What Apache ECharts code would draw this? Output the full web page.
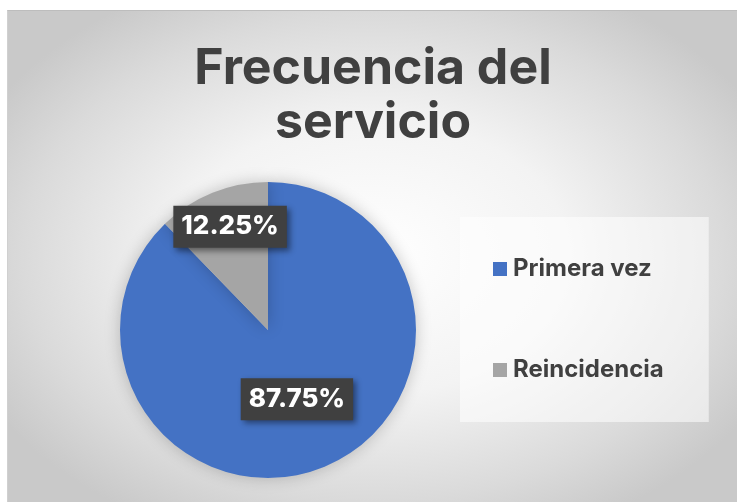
<!DOCTYPE html>
<html>
<head>
<meta charset="utf-8">
<script src="https://cdn.jsdelivr.net/npm/echarts@6/dist/echarts.min.js"></script>
<style>
  html, body { margin: 0; padding: 0; background: #fff; }
  #wrap { position: relative; width: 737px; height: 502px; overflow: hidden; }
  #chart {
    position: absolute; left: 7px; top: 10px; width: 730px; height: 492px;
    border-top: 1px solid #bdbdbd; border-left: 1px solid #d0d0d0;
    background: radial-gradient(ellipse 60% 62% at 50% 50%, #ffffff 0%, #f3f3f3 45%, #dadada 80%, #c9c9c9 100%);
  }
</style>
</head>
<body>
<div id="wrap"><div id="chart"></div></div>
<script>
// datos del grafico
let categories = ['Primera vez', 'Reincidencia']
let values = [87.75, 12.25]
let colors = ['#4472C4', '#A5A5A5']
// desplazamiento de etiqueta (Excel "mejor ajuste")
let labelShift = [[0, -2], [-9, -32]]

let chart = echarts.init(document.getElementById('chart'), null, { renderer: 'canvas' })

let pieData = categories.map((name, i) => {
  return {
    name: name,
    value: values[i],
    itemStyle: { color: colors[i] },
    label: { offset: labelShift[i] }
  }
})

let option = {
  animation: false,
  title: {
    text: 'Frecuencia del\nservicio',
    left: 'center',
    top: 26,
    textStyle: {
      fontFamily: 'Inter',
      fontWeight: 'bold',
      fontSize: 50,
      lineHeight: 54,
      color: '#404040'
    }
  },
  legend: {
    orient: 'vertical',
    left: 452,
    top: 206,
    padding: [40, 45, 40, 33],
    backgroundColor: 'rgba(255,255,255,0.55)',
    itemWidth: 14,
    itemHeight: 14,
    itemGap: 77,
    icon: 'rect',
    data: categories,
    textStyle: {
      fontFamily: 'Inter',
      fontWeight: 'bold',
      fontSize: 24,
      color: '#404040',
      padding: [0, 0, 0, 1]
    }
  },
  series: [{
    type: 'pie',
    center: [260, 319],
    radius: 148,
    startAngle: 90,
    clockwise: true,
    data: pieData,
    itemStyle: {
      shadowColor: 'rgba(0,0,0,0.22)',
      shadowBlur: 16
    },
    emphasis: { disabled: true },
    label: {
      show: true,
      position: 'inside',
      formatter: '{c}%',
      fontFamily: 'Inter',
      fontWeight: 800,
      fontSize: 26,
      color: '#ffffff',
      backgroundColor: '#404040',
      padding: [9, 8, 7, 8],
      shadowColor: 'rgba(0,0,0,0.45)',
      shadowBlur: 6,
      shadowOffsetX: 3,
      shadowOffsetY: 3,
      textShadowColor: 'transparent'
    },
    labelLine: { show: false }
  }]
}

chart.setOption(option)
</script>
</body>
</html>
